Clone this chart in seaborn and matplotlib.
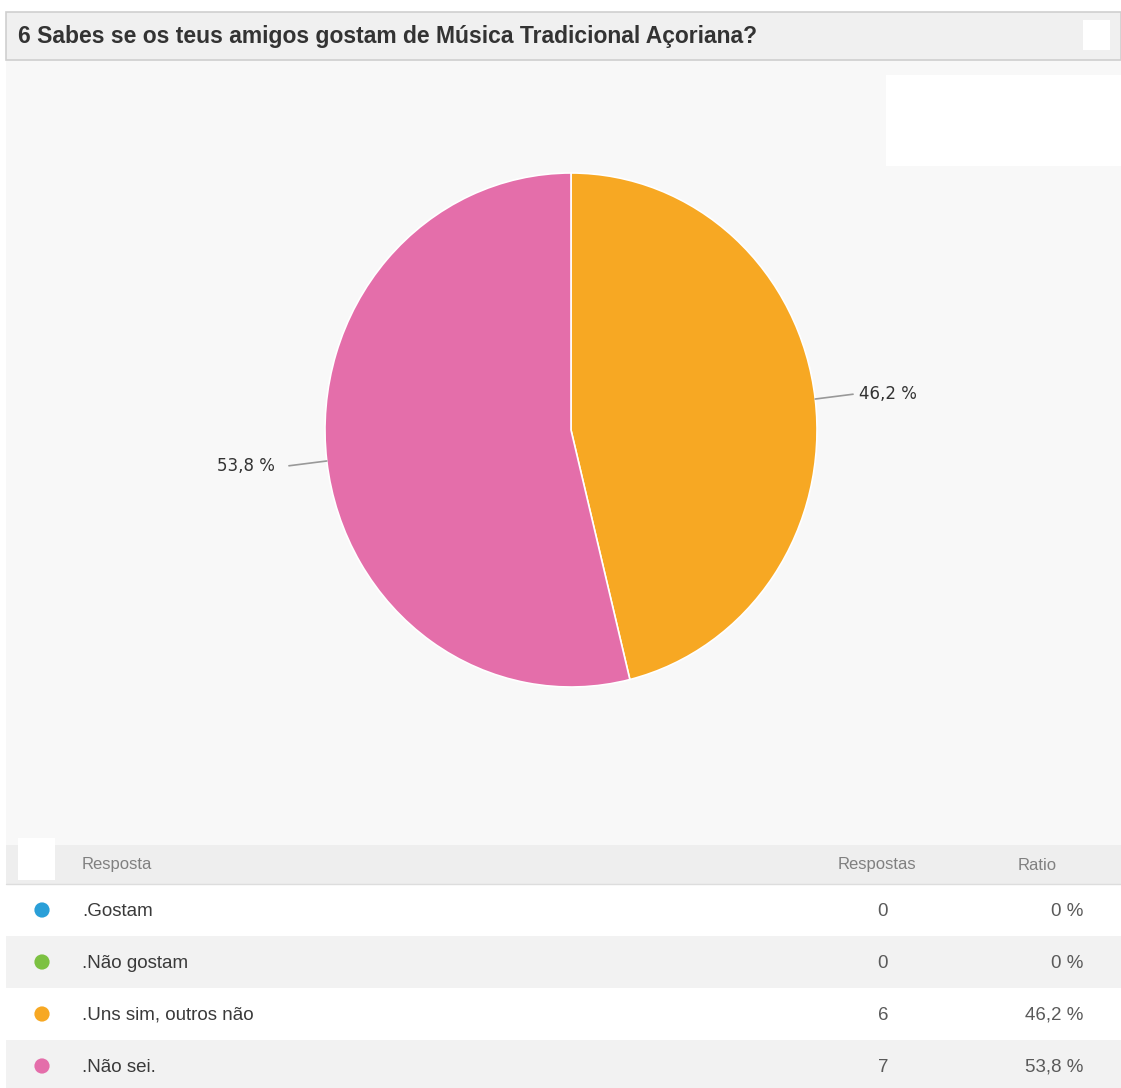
import matplotlib
matplotlib.use("Agg")
import matplotlib.pyplot as plt
from matplotlib.patches import Rectangle
import numpy as np
import pandas as pd
import seaborn as sns

# Survey results
title = "6 Sabes se os teus amigos gostam de Música Tradicional Açoriana?"
categories = [".Gostam", ".Não gostam", ".Uns sim, outros não", ".Não sei."]
counts = [0, 0, 6, 7]
ratios = ["0 %", "0 %", "46,2 %", "53,8 %"]
colors = ["#2a9fd8", "#7cc142", "#f7a823", "#e46eaa"]
header = ["Resposta", "Respostas", "Ratio"]

sns.set_style("white")
plt.rcParams["font.family"] = ["Liberation Sans", "DejaVu Sans"]

W, H = 1121, 1088
fig = plt.figure(figsize=(W / 100, H / 100), dpi=100)
fig.patch.set_facecolor("white")

# Background canvas in pixel coordinates
bg = fig.add_axes([0, 0, 1, 1])
bg.set_xlim(0, W)
bg.set_ylim(H, 0)
bg.axis("off")

# Title bar and chart panel
bg.add_patch(Rectangle((6, 60), W - 6, 785, facecolor="#f8f8f8", edgecolor="none"))
bg.add_patch(Rectangle((6, 12), W - 6, 48, facecolor="#f0f0f0", edgecolor="#cfcfcf", lw=1.2))
bg.add_patch(Rectangle((1083, 20), 27, 30, facecolor="white", edgecolor="none"))
bg.add_patch(Rectangle((886, 75), W - 886, 91, facecolor="white", edgecolor="none"))
bg.text(18, 37, title, fontsize=16.5, fontweight="bold", color="#333333", va="center", ha="left")

# Table
bg.add_patch(Rectangle((6, 845), W - 6, 39, facecolor="#eeeeee", edgecolor="none"))
bg.plot([6, W], [884, 884], color="#dddddd", lw=1)
row_h = 52
for i in range(len(categories)):
    y0 = 884 + i * row_h
    bg.add_patch(Rectangle((6, y0), W - 6, row_h,
                           facecolor="white" if i % 2 == 0 else "#f2f2f2", edgecolor="none"))
bg.add_patch(Rectangle((18, 838), 37, 42, facecolor="white", edgecolor="none"))

bg.text(82, 865, header[0], fontsize=12, color="#808080", va="center", ha="left")
bg.text(877, 865, header[1], fontsize=12, color="#808080", va="center", ha="center")
bg.text(1037, 865, header[2], fontsize=12, color="#808080", va="center", ha="center")

table = pd.DataFrame({
    "categoria": categories,
    "x": 42,
    "y": [884 + row_h * (i + 0.5) for i in range(len(categories))],
})
sns.scatterplot(data=table, x="x", y="y", hue="categoria", palette=colors,
                s=120, edgecolor="none", legend=False, ax=bg)
bg.set_xlim(0, W)
bg.set_ylim(H, 0)
bg.axis("off")
for i, (cat, n, r) in enumerate(zip(categories, counts, ratios)):
    yc = 884 + row_h * (i + 0.5) + 1
    bg.text(82, yc, cat, fontsize=13.5, color="#3a3a3a", va="center", ha="left")
    bg.text(883, yc, str(n), fontsize=13.5, color="#5a5a5a", va="center", ha="center")
    bg.text(1083, yc, r, fontsize=13.5, color="#5a5a5a", va="center", ha="right")

# Pie chart
ax = fig.add_axes([325 / W, 1 - 687 / H, 492 / W, 514 / H])
wedges, _ = ax.pie(counts, colors=colors, startangle=90, counterclock=False,
                   wedgeprops=dict(edgecolor="white", linewidth=1.2))
ax.set_aspect("auto")
ax.set_xlim(-1, 1)
ax.set_ylim(-1, 1)
ax.axis("off")
total = sum(counts)
for w, n in zip(wedges, counts):
    if n == 0:
        continue
    mid = np.deg2rad((w.theta1 + w.theta2) / 2)
    c, s = np.cos(mid), np.sin(mid)
    ax.plot([c * 1.0, c * 1.155], [s * 1.0, s * 1.155], color="#999999", lw=1.2, clip_on=False)
    label = f"{100 * n / total:.1f} %".replace(".", ",")
    right = c > 0
    ax.annotate(label, xy=(c * 1.155, s * 1.155), xytext=(6 if right else -14, 0),
                textcoords="offset pixels", fontsize=12, family="DejaVu Sans",
                color="#333333", ha="left" if right else "right", va="center",
                annotation_clip=False)

fig.savefig("out.png", dpi=100, facecolor="white")
